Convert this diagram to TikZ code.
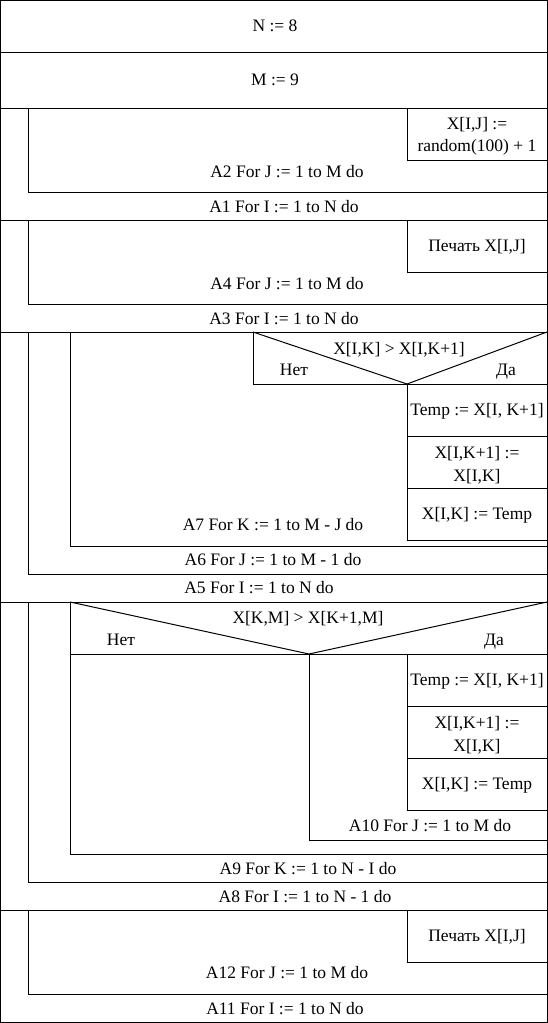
\documentclass[tikz,border=0pt]{standalone}
\usepackage{fontspec}
\setmainfont{Liberation Serif}
\begin{document}
\begin{tikzpicture}[x=1pt,y=-1pt, line width=1pt,
  lbl/.style={inner sep=0pt, text height=11.6pt, text depth=0pt, font=\fontsize{17.5}{22.4}\selectfont},
  lbltwo/.style={inner sep=0pt, align=center, font=\fontsize{17.5}{22.4}\selectfont}]
\useasboundingbox (0,0) rectangle (548,1023);
% outer frame and full-width separators
\draw (0.5,0.5) rectangle (547,1022.5);
\foreach \yy in {52,108,220,332,602,910} \draw (0.5,\yy) -- (547,\yy);
% A1 / A2
\draw (28,108) -- (28,192) -- (547,192);
\draw (407,108) -- (407,160) -- (547,160);
% A3 / A4
\draw (28,220) -- (28,304) -- (547,304);
\draw (407,220) -- (407,272) -- (547,272);
% A5 / A6 / A7
\draw (28,332) -- (28,574) -- (547,574);
\draw (70,332) -- (70,546) -- (547,546);
\draw (253,332) -- (253,384) -- (547,384);
\draw (253,332) -- (407,384) -- (547,332);
\draw (407,384) -- (407,540) -- (547,540);
\draw (407,436) -- (547,436);
\draw (407,488) -- (547,488);
% A8 / A9 / A10
\draw (28,602) -- (28,882) -- (547,882);
\draw (70,602) -- (70,854) -- (547,854);
\draw (70,654) -- (547,654);
\draw (70,602) -- (309,654) -- (547,602);
\draw (309,654) -- (309,840) -- (547,840);
\draw (407,654) -- (407,810) -- (547,810);
\draw (407,706) -- (547,706);
\draw (407,758) -- (547,758);
% A11 / A12
\draw (28,910) -- (28,994) -- (547,994);
\draw (407,910) -- (407,962) -- (547,962);
% texts
\node[lbl] (n) at (275,26) {N := 8};
\node[lbl] (m) at (275,80) {M := 9};
\node[lbltwo] (xr) at (477,136.3) {X[I,J] :=\\random(100) + 1};
\node[lbl] (a2) at (287,172) {A2 For J := 1 to M do};
\node[lbl] (a1) at (284,207) {A1 For I := 1 to N do};
\node[lbl] (p1) at (477,246) {Печать X[I,J]};
\node[lbl] (a4) at (287,284) {A4 For J := 1 to M do};
\node[lbl] (a3) at (284,319) {A3 For I := 1 to N do};
\node[lbl] (c1) at (399,349) {X[I,K] > X[I,K+1]};
\node[lbl] (c1n) at (294,370) {Нет};
\node[lbl] (c1y) at (506,370) {Да};
\node[lbl] (t1) at (477,410) {Temp := X[I, K+1]};
\node[lbltwo] (s1) at (477,465.3) {X[I,K+1] :=\\X[I,K]};
\node[lbl] (u1) at (477,514) {X[I,K] := Temp};
\node[lbl] (a7) at (273,525) {A7 For K := 1 to M - J do};
\node[lbl] (a6) at (273,560) {A6 For J := 1 to M - 1 do};
\node[lbl] (a5) at (259,588) {A5 For I := 1 to N do};
\node[lbl] (c2) at (308,618) {X[K,M] > X[K+1,M]};
\node[lbl] (c2n) at (121,640) {Нет};
\node[lbl] (c2y) at (494,640) {Да};
\node[lbl] (t2) at (477,680) {Temp := X[I, K+1]};
\node[lbltwo] (s2) at (477,735.3) {X[I,K+1] :=\\X[I,K]};
\node[lbl] (u2) at (477,784) {X[I,K] := Temp};
\node[lbl] (a10) at (430,826) {A10 For J := 1 to M do};
\node[lbl] (a9) at (308,869) {A9 For K := 1 to N - I do};
\node[lbl] (a8) at (305,897) {A8 For I := 1 to N - 1 do};
\node[lbl] (p2) at (477,936) {Печать X[I,J]};
\node[lbl] (a12) at (287,973) {A12 For J := 1 to M do};
\node[lbl] (a11) at (285,1009) {A11 For I := 1 to N do};
\end{tikzpicture}
\end{document}
